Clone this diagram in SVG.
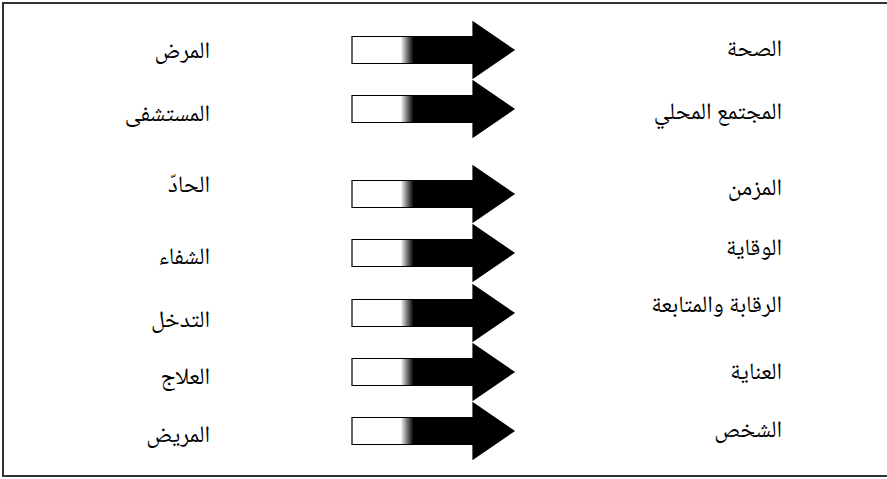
<svg xmlns="http://www.w3.org/2000/svg" width="887" height="479" viewBox="0 0 887 479">
<style>
.lbl{font-family:"Noto Naskh Arabic","Noto Sans Arabic","DejaVu Sans","Liberation Serif",serif;font-size:23.5px;fill:#000;text-anchor:end}
.frame{fill:none;stroke:#333;stroke-width:2}
.arr{stroke:#000;stroke-width:1.2;stroke-linejoin:miter}
</style>
<defs>
<linearGradient id="g" gradientUnits="userSpaceOnUse" x1="352" y1="0" x2="514" y2="0">
<stop offset="0" stop-color="#fff"/>
<stop offset="0.30" stop-color="#fff"/>
<stop offset="0.34" stop-color="#777"/>
<stop offset="0.38" stop-color="#000"/>
<stop offset="1" stop-color="#000"/>
</linearGradient>
<polygon id="arrow" class="arr" fill="url(#g)" points="352,-13.5 473,-13.5 473,-28 514,0 473,28 473,13.5 352,13.5"/>
</defs>
<rect width="887" height="479" fill="#fff"/>
<path class="frame" d="M887,3 H3 V476 H887"/>
<g id="connectors">
<use href="#arrow" y="50"/>
<use href="#arrow" y="109"/>
<use href="#arrow" y="194"/>
<use href="#arrow" y="253"/>
<use href="#arrow" y="313"/>
<use href="#arrow" y="372"/>
<use href="#arrow" y="431"/>
</g>
<g id="n-health"><text class="lbl" x="782" y="56">الصحة</text></g>
<g id="n-disease"><text class="lbl" x="210" y="58">المرض</text></g>
<g id="n-community"><text class="lbl" x="782" y="119">المجتمع المحلي</text></g>
<g id="n-hospital"><text class="lbl" x="210" y="121">المستشفى</text></g>
<g id="n-chronic"><text class="lbl" x="782" y="195">المزمن</text></g>
<g id="n-acute"><text class="lbl" x="210" y="192">الحادّ</text></g>
<g id="n-prevention"><text class="lbl" x="782" y="255">الوقاية</text></g>
<g id="n-cure"><text class="lbl" x="210" y="264">الشفاء</text></g>
<g id="n-monitoring"><text class="lbl" x="782" y="312">الرقابة والمتابعة</text></g>
<g id="n-intervention"><text class="lbl" x="210" y="327">التدخل</text></g>
<g id="n-care"><text class="lbl" x="782" y="379">العناية</text></g>
<g id="n-treatment"><text class="lbl" x="210" y="384">العلاج</text></g>
<g id="n-person"><text class="lbl" x="782" y="437">الشخص</text></g>
<g id="n-patient"><text class="lbl" x="210" y="442">المريض</text></g>
</svg>
